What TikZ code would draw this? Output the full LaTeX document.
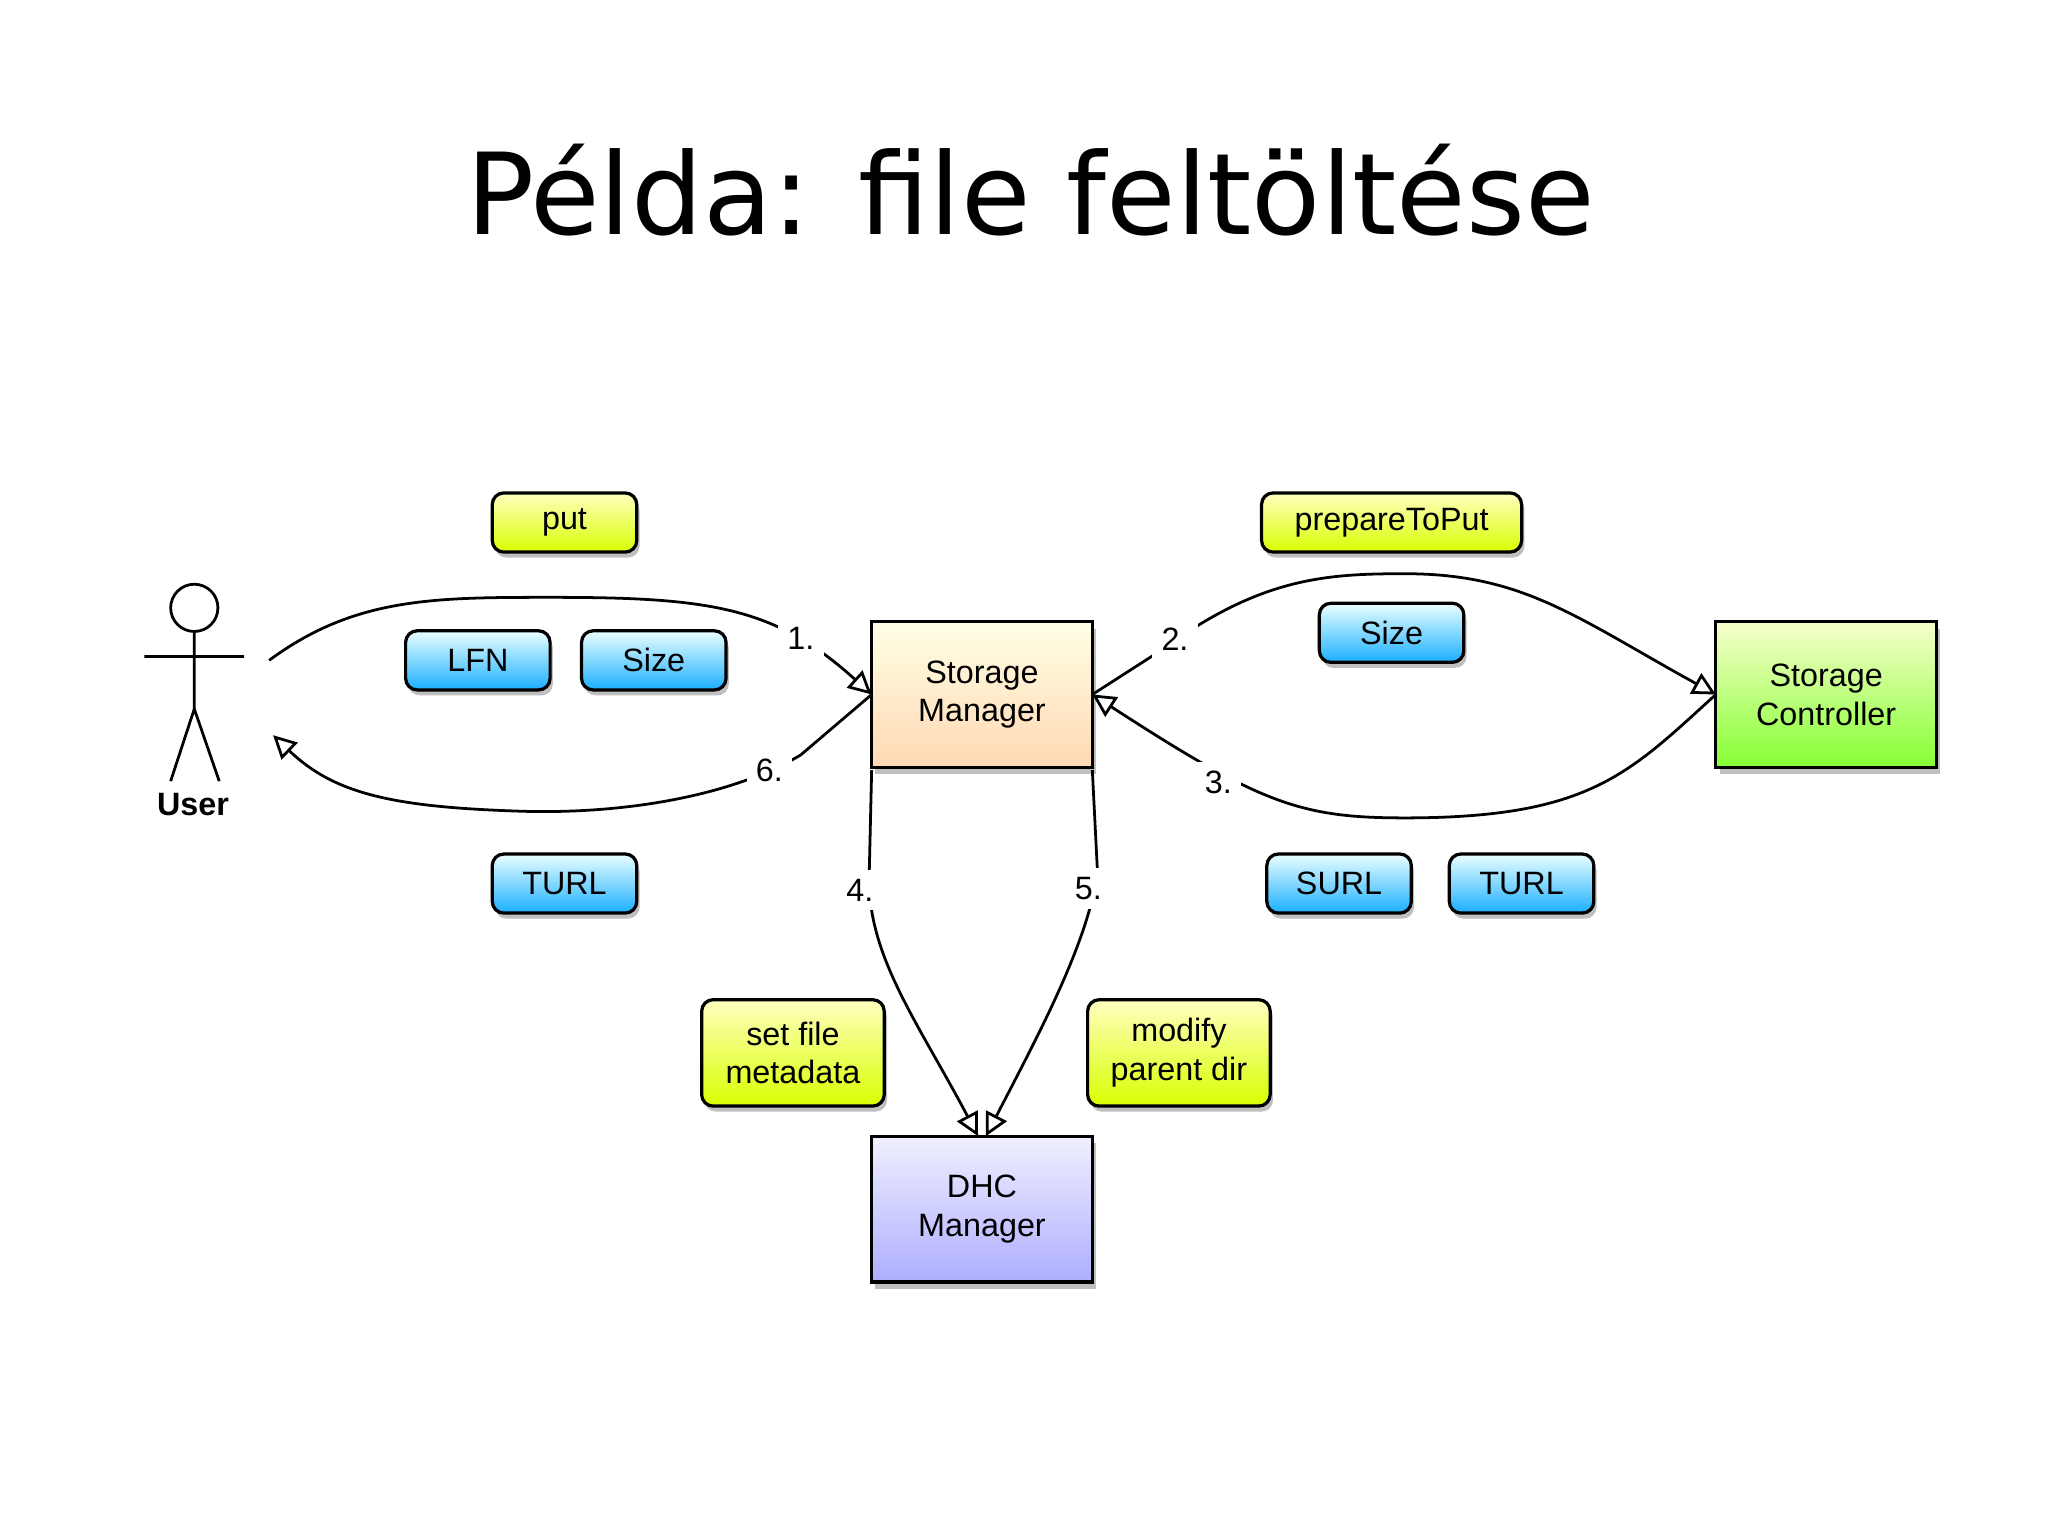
\documentclass[tikz,border=0pt]{standalone}
\usepackage{fontspec}
\setmainfont{Liberation Sans}
\newfontfamily\titlefont{DejaVu Sans}
\usetikzlibrary{arrows.meta,shadows,calc}
\begin{document}
\begin{tikzpicture}[x=0.01cm,y=-0.01cm,
  font=\fontsize{7}{8.4}\selectfont,
  tag/.style={draw=black,line width=0.7pt,rounded corners=2.5pt,minimum height=0.45cm,align=center,inner sep=1pt,outer sep=0pt,
    drop shadow={shadow xshift=0.6pt,shadow yshift=-1.2pt,opacity=0.5}},
  ytag/.style={tag,top color=yellow!25,bottom color=yellow!85!green},
  btag/.style={tag,top color=cyan!8,bottom color=cyan!65!blue!90},
  comp/.style={draw=black,line width=0.7pt,minimum width=1.68cm,minimum height=1.11cm,align=center,outer sep=0pt,
    drop shadow={shadow xshift=0.8pt,shadow yshift=-1.5pt,opacity=0.5}},
  conn/.style={line width=0.6pt,-{Triangle[open,length=5pt,width=5pt]}},
  lbl/.style={fill=white,inner sep=2pt}]
\useasboundingbox (0,0) rectangle (1560,1169);
\fill[white] (0,0) rectangle (1560,1169);
\node[font=\titlefont\fontsize{24.5}{30}\selectfont] (title) at (785,145) {Példa: file feltöltése};
% components
\node[comp,top color=yellow!10,bottom color=orange!30] (sm) at (748,529) {Storage\\Manager};
\node[comp,top color=green!15!yellow!20,bottom color=green!60!yellow!80] (sc) at (1391,529) {Storage\\Controller};
\node[comp,top color=blue!6,bottom color=blue!32] (dhc) at (748,921) {DHC\\Manager};
% user
\draw[line width=0.6pt,fill=white] (148,463) circle (18);
\draw[line width=0.6pt] (148,481) -- (148,540) (110,500) -- (186,500) (130,595) -- (148,540) -- (167,595);
\node[font=\bfseries\fontsize{7}{8}\selectfont] (user) at (147,613) {User};
\coordinate (uout) at (205,503);
\coordinate (uin) at (208,560);
% tags
\node[ytag,minimum width=1.1cm] (put) at (430,398) {put};
\node[ytag,minimum width=1.98cm] (ptp) at (1060,398) {prepareToPut};
\node[btag,minimum width=1.1cm] (lfn) at (364,503) {LFN};
\node[btag,minimum width=1.1cm] (size1) at (498,503) {Size};
\node[btag,minimum width=1.1cm] (size2) at (1060,482) {Size};
\node[btag,minimum width=1.1cm] (turl1) at (430,673) {TURL};
\node[btag,minimum width=1.1cm] (surl) at (1020,673) {SURL};
\node[btag,minimum width=1.1cm] (turl2) at (1159,673) {TURL};
\node[ytag,minimum width=1.39cm,minimum height=0.81cm] (sfm) at (604,802) {set file\\metadata};
\node[ytag,minimum width=1.39cm,minimum height=0.81cm] (mpd) at (898,802) {modify\\parent dir};
% connectors
\draw[conn] (uout) .. controls (270,455) and (330,455) .. (420,455) .. controls (540,455) and (590,462) .. (sm.west);
\node[lbl] (l1) at (610,486) {1.};
\draw[conn] (sm.west) -- (610,575) .. controls (560,605) and (480,620) .. (400,618) .. controls (300,615) and (255,605) .. (uin);
\node[lbl] (l6) at (586,587) {6.};
\draw[conn] (sm.east) -- (885,495) .. controls (960,440) and (1010,437) .. (1070,437) .. controls (1160,437) and (1200,470) .. (sc.west);
\node[lbl] (l2) at (895,487) {2.};
\draw[conn] (sc.west) .. controls (1240,590) and (1210,623) .. (1070,623) .. controls (990,623) and (960,612) .. (sm.east);
\node[lbl] (l3) at (928,596) {3.};
\draw[conn] ($(sm.south west)+(0,2)$) -- (662,670) .. controls (662,730) and (700,780) .. ($(dhc.north)+(-3,0)$);
\node[lbl] (l4) at (655,678) {4.};
\draw[conn] ($(sm.south east)+(0,2)$) -- (836,665) .. controls (828,720) and (790,790) .. ($(dhc.north)+(3,0)$);
\node[lbl] (l5) at (829,677) {5.};
\end{tikzpicture}
\end{document}
